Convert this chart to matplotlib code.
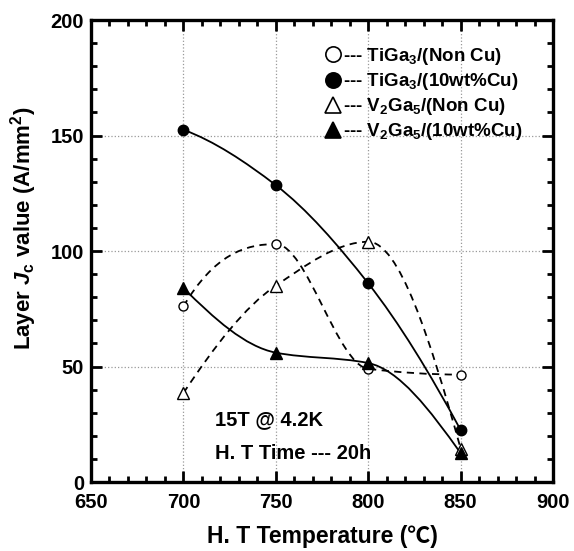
"""Layer Jc value vs heat treatment temperature for TiGa3 / V2Ga5 layers."""

import matplotlib

matplotlib.use("Agg")
import matplotlib.pyplot as plt
import numpy as np
from matplotlib.lines import Line2D
from matplotlib.patches import PathPatch
from matplotlib.path import Path
from matplotlib.ticker import MultipleLocator

plt.rcParams["font.family"] = ["Liberation Sans", "Noto Sans CJK SC", "DejaVu Sans"]
plt.rcParams["font.weight"] = "bold"
plt.rcParams["axes.labelweight"] = "bold"
plt.rcParams["mathtext.fontset"] = "custom"
plt.rcParams["mathtext.rm"] = "Liberation Sans:bold"
plt.rcParams["mathtext.it"] = "Liberation Sans:bold:italic"
plt.rcParams["mathtext.bf"] = "Liberation Sans:bold"

# data
temperature = [700, 750, 800, 850]
tiga3_non_cu = [76, 103, 49, 46.5]
tiga3_cu = [152.5, 128.5, 86, 22.5]
v2ga5_non_cu = [38.5, 85, 104, 14.5]
v2ga5_cu = [84, 56, 51.5, 12.5]

labels = [
    "--- TiGa$_3$/(Non Cu)",
    "--- TiGa$_3$/(10wt%Cu)",
    "--- V$_2$Ga$_5$/(Non Cu)",
    "--- V$_2$Ga$_5$/(10wt%Cu)",
]


def smooth_path(x, y):
    """Monotone (PCHIP-style) cubic through the points, as Bezier segments."""
    x = np.asarray(x, float)
    y = np.asarray(y, float)
    n = len(x)
    h = np.diff(x)
    delta = np.diff(y) / h
    d = np.zeros(n)
    for k in range(1, n - 1):
        if delta[k - 1] * delta[k] > 0:
            w1 = 2 * h[k] + h[k - 1]
            w2 = h[k] + 2 * h[k - 1]
            d[k] = (w1 + w2) / (w1 / delta[k - 1] + w2 / delta[k])

    def end_slope(h0, h1, d0, d1):
        s = ((2 * h0 + h1) * d0 - h0 * d1) / (h0 + h1)
        if np.sign(s) != np.sign(d0):
            return 0.0
        if np.sign(d0) != np.sign(d1) and abs(s) > 3 * abs(d0):
            return 3 * d0
        return s

    d[0] = end_slope(h[0], h[1], delta[0], delta[1])
    d[-1] = end_slope(h[-1], h[-2], delta[-1], delta[-2])

    verts = [(x[0], y[0])]
    codes = [Path.MOVETO]
    for i in range(n - 1):
        verts += [
            (x[i] + h[i] / 3, y[i] + d[i] * h[i] / 3),
            (x[i + 1] - h[i] / 3, y[i + 1] - d[i + 1] * h[i] / 3),
            (x[i + 1], y[i + 1]),
        ]
        codes += [Path.CURVE4] * 3
    return Path(verts, codes)


fig = plt.figure(figsize=(5.74, 5.51), dpi=100)
ax = fig.add_axes([0.1585, 0.1252, 0.805, 0.8385])

series = [
    (tiga3_non_cu, "o", "white", 6.5, (0, (4, 3))),
    (tiga3_cu, "o", "black", 7.5, "-"),
    (v2ga5_non_cu, "^", "white", 8, (0, (4, 3))),
    (v2ga5_cu, "^", "black", 9, "-"),
]

handles = []
for values, marker, face, size, style in series:
    ax.add_patch(
        PathPatch(smooth_path(temperature, values), fill=False, ec="black",
                  lw=1.3, ls=style, zorder=2)
    )
    ax.plot(temperature, values, ls="none", marker=marker, mfc=face, mec="black",
            mew=1.0, ms=size, zorder=3)
    handles.append(Line2D([], [], ls="none", marker=marker, mfc=face, mec="black",
                          mew=1.2, ms=11))

ax.legend(handles, labels, loc="upper left", bbox_to_anchor=(0.49, 0.96),
          frameon=False, fontsize=13.5, handlelength=0.9, handletextpad=0.05,
          labelspacing=0.22, borderaxespad=0)

ax.text(717, 27, "15T @ 4.2K", fontsize=14.5, va="center")
ax.text(717, 12.5, "H. T Time --- 20h", fontsize=14.5, va="center")

ax.set_xlim(650, 900)
ax.set_ylim(0, 200)
ax.xaxis.set_major_locator(MultipleLocator(50))
ax.xaxis.set_minor_locator(MultipleLocator(10))
ax.yaxis.set_major_locator(MultipleLocator(50))
ax.yaxis.set_minor_locator(MultipleLocator(10))
ax.tick_params(which="both", direction="in", top=True, right=True, width=2,
               labelsize=14.5, pad=5)
ax.tick_params(axis="x", which="major", pad=8)
ax.tick_params(which="major", length=8)
ax.tick_params(which="minor", length=4.5)
for spine in ax.spines.values():
    spine.set_linewidth(2.4)
ax.grid(True, which="major", color="#999999", ls=":", lw=0.9)
ax.set_axisbelow(True)

ax.set_xlabel("H. T Temperature (\u2103)", fontsize=16.5, labelpad=9)
ax.set_ylabel(r"Layer $J_{\rm c}$ value (A/mm$^2$)", fontsize=16, labelpad=8, y=0.55)

fig.savefig("out.png", dpi=100)
